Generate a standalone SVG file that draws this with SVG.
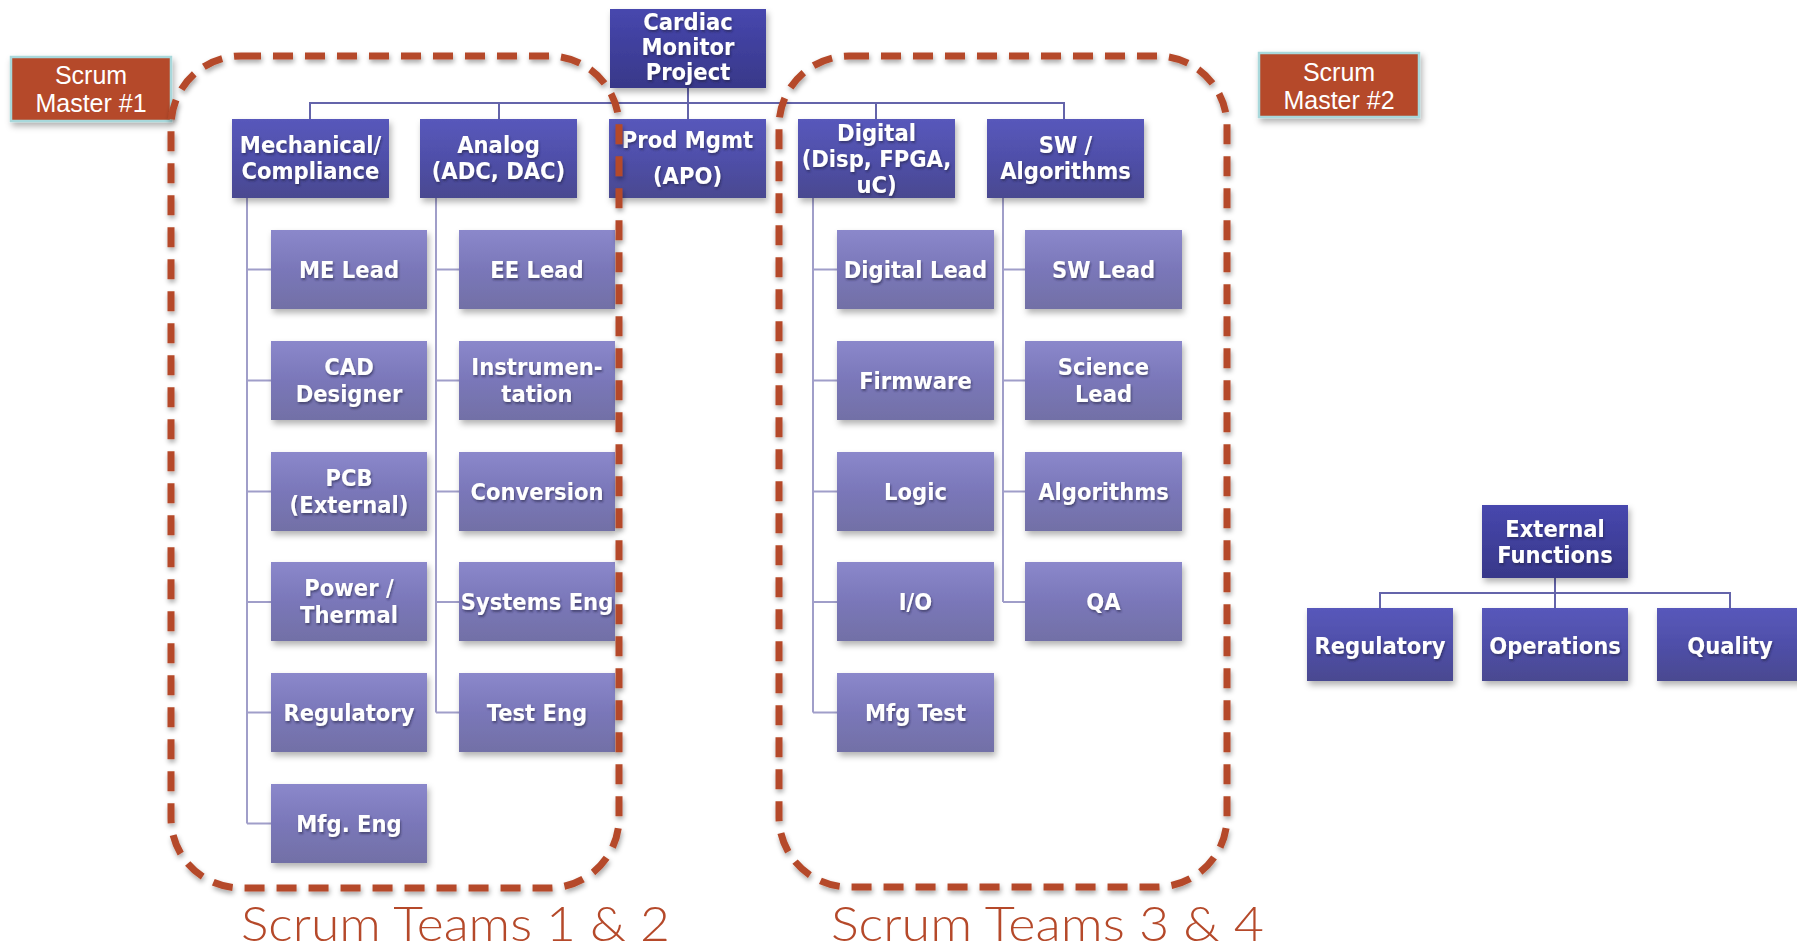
<svg xmlns="http://www.w3.org/2000/svg" width="1797" height="950" viewBox="0 0 1797 950">
<defs>
<linearGradient id="gTop" x1="0" y1="0" x2="0" y2="1"><stop offset="0" stop-color="#4747ae"/><stop offset="1" stop-color="#383889"/></linearGradient>
<linearGradient id="gMid" x1="0" y1="0" x2="0" y2="1"><stop offset="0" stop-color="#5858bb"/><stop offset="0.5" stop-color="#4f4fa9"/><stop offset="1" stop-color="#4a4990"/></linearGradient>
<linearGradient id="gLow" x1="0" y1="0" x2="0" y2="1"><stop offset="0" stop-color="#8b88cb"/><stop offset="0.5" stop-color="#7a77b9"/><stop offset="1" stop-color="#7270a6"/></linearGradient>
<filter id="sh" x="-10%" y="-10%" width="125%" height="130%"><feDropShadow dx="2" dy="4" stdDeviation="3" flood-color="#000" flood-opacity="0.3"/></filter>
<filter id="tsh" x="-10%" y="-20%" width="120%" height="150%"><feDropShadow dx="1" dy="2" stdDeviation="1.2" flood-color="#1a1a40" flood-opacity="0.55"/></filter>
<filter id="dsh" x="-5%" y="-5%" width="110%" height="110%"><feDropShadow dx="1" dy="3" stdDeviation="2.5" flood-color="#000" flood-opacity="0.35"/></filter>
</defs>
<style>
.top{fill:url(#gTop);filter:url(#sh)}
.mid{fill:url(#gMid);filter:url(#sh)}
.low{fill:url(#gLow);filter:url(#sh)}
.lbl{font-family:"DejaVu Sans Condensed","DejaVu Sans",sans-serif;font-weight:bold;font-size:23.5px;fill:#fff;text-anchor:middle;filter:url(#tsh)}
.sm{fill:#b5492a;stroke:#a9d8db;stroke-width:2.5;filter:url(#sh)}
.smt{font-family:"Liberation Sans",Arial,sans-serif;font-size:25px;fill:#fff;text-anchor:middle}
.dash{fill:none;stroke:#b5492a;stroke-width:7;stroke-dasharray:20 12;filter:url(#dsh)}
.c2{fill:none;stroke:#6464aa;stroke-width:2}
.c3{fill:none;stroke:#a09ec9;stroke-width:2}
.team{font-family:Lato,"Liberation Sans",sans-serif;font-weight:300;font-size:47px;fill:#b5492a}
</style>
<rect width="1797" height="950" fill="#fff"/>

<g id="connectors">
<path class="c2" d="M688 88V119M310 119V103H1064V119M499 103V119M876 103V119"/>
<path class="c3" d="M247 198V823.5M247 269.5H271M247 380.5H271M247 491.5H271M247 602H271M247 712.5H271M247 823.5H271"/>
<path class="c3" d="M436 198V712.5M436 269.5H459M436 380.5H459M436 491.5H459M436 602H459M436 712.5H459"/>
<path class="c3" d="M813 198V712.5M813 269.5H837M813 380.5H837M813 491.5H837M813 602H837M813 712.5H837"/>
<path class="c3" d="M1003 198V602M1003 269.5H1025M1003 380.5H1025M1003 491.5H1025M1003 602H1025"/>
<path class="c2" d="M1555 578V608M1380 608V593H1730V608"/>
</g>

<g id="scrum-master-1"><rect class="sm" x="11" y="57" width="160" height="64"/><text class="smt" x="91" y="84">Scrum</text><text class="smt" x="91" y="112">Master #1</text></g>
<g id="scrum-master-2"><rect class="sm" x="1259" y="53" width="160" height="64"/><text class="smt" x="1339" y="81">Scrum</text><text class="smt" x="1339" y="109">Master #2</text></g>

<g id="cardiac"><rect class="top" x="610" y="9" width="156" height="79"/><text class="lbl" x="688" y="30">Cardiac</text><text class="lbl" x="688" y="55">Monitor</text><text class="lbl" x="688" y="80">Project</text></g>

<g id="mechanical"><rect class="mid" x="232" y="119" width="157" height="79"/><text class="lbl" x="310.5" y="153">Mechanical/</text><text class="lbl" x="310.5" y="179">Compliance</text></g>
<g id="analog"><rect class="mid" x="420" y="119" width="157" height="79"/><text class="lbl" x="498.5" y="153">Analog</text><text class="lbl" x="498.5" y="179">(ADC, DAC)</text></g>
<g id="prodmgmt"><rect class="mid" x="609" y="119" width="157" height="79"/><text class="lbl" x="687.5" y="148">Prod Mgmt</text><text class="lbl" x="687.5" y="184">(APO)</text></g>
<g id="digital"><rect class="mid" x="798" y="119" width="157" height="79"/><text class="lbl" x="876.5" y="141">Digital</text><text class="lbl" x="876.5" y="167">(Disp, FPGA,</text><text class="lbl" x="876.5" y="193">uC)</text></g>
<g id="sw"><rect class="mid" x="987" y="119" width="157" height="79"/><text class="lbl" x="1065.5" y="153">SW /</text><text class="lbl" x="1065.5" y="179">Algorithms</text></g>

<g id="me-lead"><rect class="low" x="271" y="230" width="156" height="79"/><text class="lbl" x="349" y="278">ME Lead</text></g>
<g id="cad"><rect class="low" x="271" y="341" width="156" height="79"/><text class="lbl" x="349" y="375">CAD</text><text class="lbl" x="349" y="402">Designer</text></g>
<g id="pcb"><rect class="low" x="271" y="452" width="156" height="79"/><text class="lbl" x="349" y="486">PCB</text><text class="lbl" x="349" y="513">(External)</text></g>
<g id="power"><rect class="low" x="271" y="562" width="156" height="79"/><text class="lbl" x="349" y="596">Power /</text><text class="lbl" x="349" y="623">Thermal</text></g>
<g id="regulatory-1"><rect class="low" x="271" y="673" width="156" height="79"/><text class="lbl" x="349" y="721">Regulatory</text></g>
<g id="mfg-eng"><rect class="low" x="271" y="784" width="156" height="79"/><text class="lbl" x="349" y="832">Mfg. Eng</text></g>

<g id="ee-lead"><rect class="low" x="459" y="230" width="156" height="79"/><text class="lbl" x="537" y="278">EE Lead</text></g>
<g id="instrumentation"><rect class="low" x="459" y="341" width="156" height="79"/><text class="lbl" x="537" y="375">Instrumen-</text><text class="lbl" x="537" y="402">tation</text></g>
<g id="conversion"><rect class="low" x="459" y="452" width="156" height="79"/><text class="lbl" x="537" y="500">Conversion</text></g>
<g id="systems-eng"><rect class="low" x="459" y="562" width="156" height="79"/><text class="lbl" x="537" y="610">Systems Eng</text></g>
<g id="test-eng"><rect class="low" x="459" y="673" width="156" height="79"/><text class="lbl" x="537" y="721">Test Eng</text></g>

<g id="digital-lead"><rect class="low" x="837" y="230" width="157" height="79"/><text class="lbl" x="915.5" y="278">Digital Lead</text></g>
<g id="firmware"><rect class="low" x="837" y="341" width="157" height="79"/><text class="lbl" x="915.5" y="389">Firmware</text></g>
<g id="logic"><rect class="low" x="837" y="452" width="157" height="79"/><text class="lbl" x="915.5" y="500">Logic</text></g>
<g id="io"><rect class="low" x="837" y="562" width="157" height="79"/><text class="lbl" x="915.5" y="610">I/O</text></g>
<g id="mfg-test"><rect class="low" x="837" y="673" width="157" height="79"/><text class="lbl" x="915.5" y="721">Mfg Test</text></g>

<g id="sw-lead"><rect class="low" x="1025" y="230" width="157" height="79"/><text class="lbl" x="1103.5" y="278">SW Lead</text></g>
<g id="science-lead"><rect class="low" x="1025" y="341" width="157" height="79"/><text class="lbl" x="1103.5" y="375">Science</text><text class="lbl" x="1103.5" y="402">Lead</text></g>
<g id="algorithms"><rect class="low" x="1025" y="452" width="157" height="79"/><text class="lbl" x="1103.5" y="500">Algorithms</text></g>
<g id="qa"><rect class="low" x="1025" y="562" width="157" height="79"/><text class="lbl" x="1103.5" y="610">QA</text></g>

<g id="external"><rect class="top" x="1482" y="505" width="146" height="73"/><text class="lbl" x="1555" y="537">External</text><text class="lbl" x="1555" y="563">Functions</text></g>
<g id="ext-regulatory"><rect class="mid" x="1307" y="608" width="146" height="73"/><text class="lbl" x="1380" y="654">Regulatory</text></g>
<g id="operations"><rect class="mid" x="1482" y="608" width="146" height="73"/><text class="lbl" x="1555" y="654">Operations</text></g>
<g id="quality"><rect class="mid" x="1657" y="608" width="146" height="73"/><text class="lbl" x="1730" y="654">Quality</text></g>

<g id="team-1-2"><rect class="dash" x="171" y="56" width="448" height="832" rx="70" ry="70"/><text class="team" x="241" y="941" textLength="429" lengthAdjust="spacingAndGlyphs">Scrum Teams 1 &amp; 2</text></g>
<g id="team-3-4"><rect class="dash" x="779" y="56" width="448" height="831" rx="70" ry="70"/><text class="team" x="831" y="941" textLength="433" lengthAdjust="spacingAndGlyphs">Scrum Teams 3 &amp; 4</text></g>
</svg>
